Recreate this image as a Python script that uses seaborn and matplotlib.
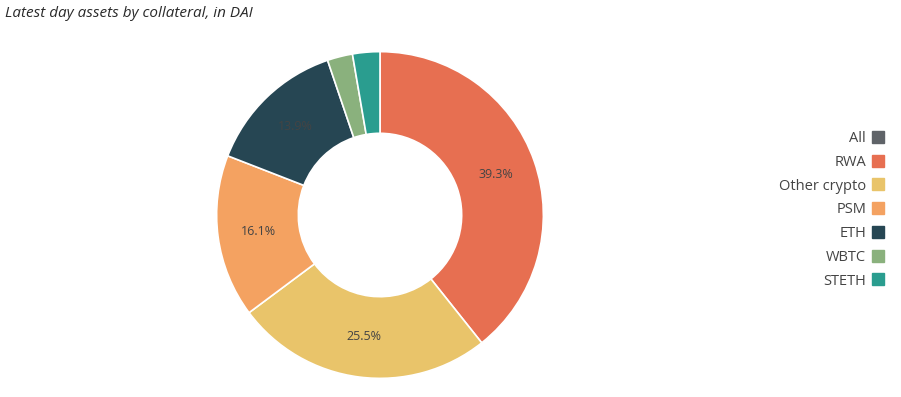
import matplotlib
matplotlib.use("Agg")
import matplotlib.pyplot as plt
import seaborn as sns
from matplotlib.lines import Line2D

# values (share of latest day assets, %)
categories = ["All", "RWA", "Other crypto", "PSM", "ETH", "WBTC", "STETH"]
shares = [0.0, 39.3, 25.5, 16.1, 13.9, 2.5, 2.7]
colors = ["#5f6368", "#e76f51", "#e9c46a", "#f4a261", "#264653", "#8ab17d", "#2a9d8f"]

sns.set_theme(style="white")
plt.rcParams["font.family"] = ["Open Sans", "DejaVu Sans"]

fig = plt.figure(figsize=(9.01, 3.97), dpi=100)
ax = fig.add_axes([215 / 901, 17 / 397, 330 / 901, 330 / 397])

# skip the empty "All" slice in the pie, keep it in the legend
pie_vals = [v for v in shares if v > 0]
pie_cols = [c for v, c in zip(shares, colors) if v > 0]


def fmt(pct):
    return f"{pct:.1f}%" if pct >= 5 else ""


wedges, texts, autotexts = ax.pie(
    pie_vals,
    colors=pie_cols,
    startangle=90,
    counterclock=False,
    radius=1.0,
    autopct=fmt,
    pctdistance=0.75,
    wedgeprops=dict(width=0.5, edgecolor="white", linewidth=1.2),
    textprops=dict(fontsize=9, color="#444444"),
)
ax.set_xlim(-1.01, 1.01)
ax.set_ylim(-1.01, 1.01)
ax.set_aspect("equal")

fig.text(0.006, 0.965, "Latest day assets by collateral, in DAI",
         fontsize=11, style="italic", color="#2a2a2a", ha="left", va="center")

handles = [Line2D([0], [0], marker="s", linestyle="", markersize=8,
                  markerfacecolor=c, markeredgecolor=c) for c in colors]
leg = fig.legend(handles, categories, loc="upper right",
                 bbox_to_anchor=(0.997, 0.703), frameon=False,
                 markerfirst=False, fontsize=10.5, labelspacing=0.6,
                 handletextpad=0.3, handlelength=1.0)
for t in leg.get_texts():
    t.set_color("#444444")
    t.set_ha("right")

fig.savefig("out.png", dpi=100)
